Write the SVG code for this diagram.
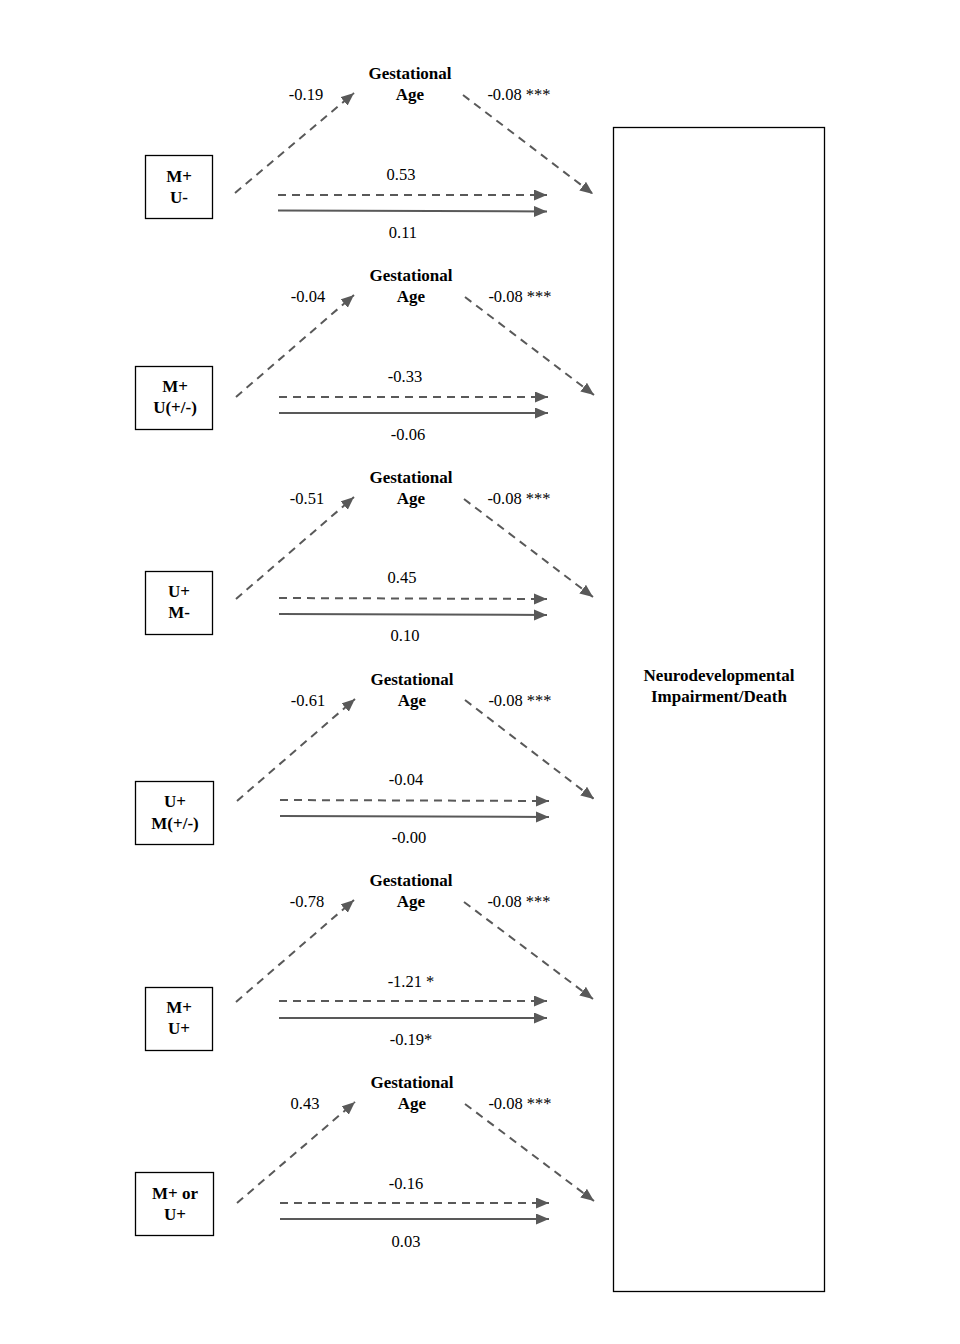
<svg xmlns="http://www.w3.org/2000/svg" width="960" height="1344" viewBox="0 0 960 1344">
<style>
text{font-family:"Liberation Serif","Times New Roman",serif;font-size:16.5px;fill:#000;text-anchor:middle}
.b{font-weight:bold;font-size:17px}
.box{fill:none;stroke:#000;stroke-width:1.3}
.d{stroke:#595959;stroke-width:2;stroke-dasharray:8,6;fill:none;marker-end:url(#ah)}
.s{stroke:#595959;stroke-width:2;fill:none;marker-end:url(#ah)}
</style>
<defs>
<marker id="ah" markerUnits="userSpaceOnUse" markerWidth="14" markerHeight="12" refX="13" refY="5.5" orient="auto">
<path d="M0,0 L13,5.5 L0,11 z" fill="#595959"/>
</marker>
</defs>
<rect width="960" height="1344" fill="#fff"/>

<g id="outcome">
<rect class="box" x="613.5" y="127.5" width="211" height="1164"/>
<text class="b" x="719" y="681">Neurodevelopmental</text>
<text class="b" x="719" y="702">Impairment/Death</text>
</g>

<g id="p1">
<rect class="box" x="145.5" y="155.5" width="67" height="63"/>
<text class="b" x="179" y="182">M+</text>
<text class="b" x="179" y="203">U-</text>
<text class="b" x="410" y="79">Gestational</text>
<text class="b" x="410" y="100">Age</text>
<text x="306" y="100">-0.19</text>
<text x="519" y="100">-0.08 ***</text>
<text x="401" y="180">0.53</text>
<text x="403" y="238">0.11</text>
</g>
<g id="p2">
<rect class="box" x="135.5" y="366.5" width="77" height="63"/>
<text class="b" x="175" y="392">M+</text>
<text class="b" x="175" y="413">U(+/-)</text>
<text class="b" x="411" y="281">Gestational</text>
<text class="b" x="411" y="302">Age</text>
<text x="308" y="302">-0.04</text>
<text x="520" y="302">-0.08 ***</text>
<text x="405" y="382">-0.33</text>
<text x="408" y="440">-0.06</text>
</g>
<g id="p3">
<rect class="box" x="145.5" y="571.5" width="67" height="63"/>
<text class="b" x="179" y="597">U+</text>
<text class="b" x="179" y="618">M-</text>
<text class="b" x="411" y="483">Gestational</text>
<text class="b" x="411" y="504">Age</text>
<text x="307" y="504">-0.51</text>
<text x="519" y="504">-0.08 ***</text>
<text x="402" y="583">0.45</text>
<text x="405" y="641">0.10</text>
</g>
<g id="p4">
<rect class="box" x="135.5" y="781.5" width="78" height="63"/>
<text class="b" x="175" y="807">U+</text>
<text class="b" x="175" y="829">M(+/-)</text>
<text class="b" x="412" y="685">Gestational</text>
<text class="b" x="412" y="706">Age</text>
<text x="308" y="706">-0.61</text>
<text x="520" y="706">-0.08 ***</text>
<text x="406" y="785">-0.04</text>
<text x="409" y="843">-0.00</text>
</g>
<g id="p5">
<rect class="box" x="145.5" y="987.5" width="67" height="63"/>
<text class="b" x="179" y="1013">M+</text>
<text class="b" x="179" y="1034">U+</text>
<text class="b" x="411" y="886">Gestational</text>
<text class="b" x="411" y="907">Age</text>
<text x="307" y="907">-0.78</text>
<text x="519" y="907">-0.08 ***</text>
<text x="411" y="987">-1.21 *</text>
<text x="411" y="1045">-0.19*</text>
</g>
<g id="p6">
<rect class="box" x="135.5" y="1172.5" width="78" height="63"/>
<text class="b" x="175" y="1199">M+ or</text>
<text class="b" x="175" y="1220">U+</text>
<text class="b" x="412" y="1088">Gestational</text>
<text class="b" x="412" y="1109">Age</text>
<text x="305" y="1109">0.43</text>
<text x="520" y="1109">-0.08 ***</text>
<text x="406" y="1189">-0.16</text>
<text x="406" y="1247">0.03</text>
</g>

<g id="connectors">
<line class="d" x1="235" y1="193" x2="354" y2="93"/>
<line class="d" x1="463" y1="95" x2="593" y2="194"/>
<line class="d" x1="278" y1="195" x2="547" y2="195"/>
<line class="s" x1="278" y1="210.5" x2="547" y2="211.5"/>

<line class="d" x1="236" y1="397" x2="354" y2="295"/>
<line class="d" x1="465" y1="297" x2="594" y2="395"/>
<line class="d" x1="279" y1="397" x2="548" y2="397"/>
<line class="s" x1="279" y1="413" x2="548" y2="413"/>

<line class="d" x1="236" y1="599" x2="354" y2="497"/>
<line class="d" x1="464" y1="499" x2="593" y2="597"/>
<line class="d" x1="279" y1="598" x2="547" y2="599"/>
<line class="s" x1="279" y1="614" x2="547" y2="615"/>

<line class="d" x1="237" y1="801" x2="355" y2="699"/>
<line class="d" x1="465" y1="700" x2="594" y2="799"/>
<line class="d" x1="280" y1="800" x2="549" y2="801"/>
<line class="s" x1="280" y1="816" x2="549" y2="817"/>

<line class="d" x1="236" y1="1002" x2="354" y2="900"/>
<line class="d" x1="464" y1="902" x2="593" y2="999"/>
<line class="d" x1="279" y1="1001" x2="547" y2="1001"/>
<line class="s" x1="279" y1="1018" x2="547" y2="1018"/>

<line class="d" x1="237" y1="1203" x2="355" y2="1102"/>
<line class="d" x1="465" y1="1104" x2="594" y2="1201"/>
<line class="d" x1="280" y1="1203" x2="549" y2="1203"/>
<line class="s" x1="280" y1="1219" x2="549" y2="1219"/>
</g>
</svg>
